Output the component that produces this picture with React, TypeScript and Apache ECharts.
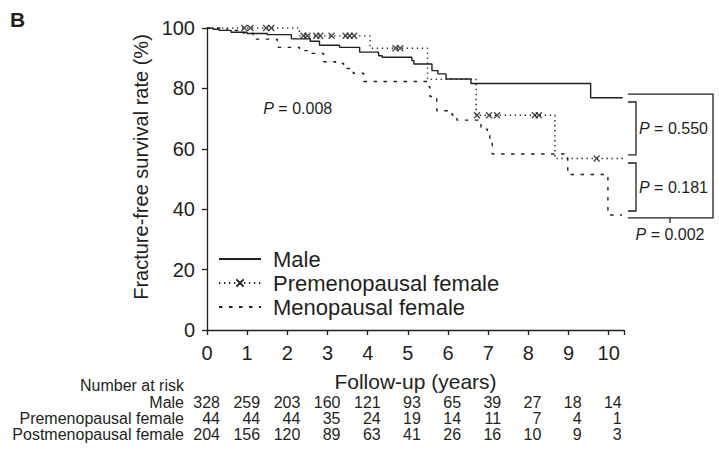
import React, { useEffect, useRef } from 'react';
import * as echarts from 'echarts';

// ---- Kaplan-Meier data (time in years, survival %) ----
const maleTimes = [0, 0.15, 0.3, 0.6, 1.0, 1.5, 2.1, 2.57, 2.8, 3.3, 3.8, 4.27, 4.36, 5.1, 5.15, 5.6, 5.75, 5.95, 6.57, 9.55, 10.35];
const maleSurv = [100, 99.6, 99.2, 98.6, 98.2, 97.8, 96.4, 95.6, 94.3, 93.6, 92.0, 90.8, 90.3, 89.2, 88.1, 85.9, 84.8, 83.1, 81.6, 76.9, 76.9];

const preTimes = [0, 2.3, 4.06, 5.49, 6.7, 8.66, 10.38];
const preSurv = [100, 97.4, 93.3, 83.0, 71.1, 56.8, 56.8];

const preCensorTimes = [0.93, 1.08, 1.47, 1.6, 2.4, 2.5, 2.72, 2.82, 3.1, 3.45, 3.55, 3.66, 4.69, 4.81, 6.72, 7.02, 7.22, 8.16, 8.26, 9.7];
const preCensorSurv = [100, 100, 100, 100, 97.4, 97.4, 97.4, 97.4, 97.4, 97.4, 97.4, 97.4, 93.3, 93.3, 71.1, 71.1, 71.1, 71.1, 71.1, 56.8];

const menoTimes = [0, 0.5, 0.9, 1.15, 1.75, 2.3, 2.5, 2.9, 3.2, 3.4, 3.64, 3.9, 5.5, 5.55, 5.72, 6.1, 6.22, 6.82, 6.98, 7.04, 7.1, 8.98, 9.98, 10.33];
const menoSurv = [100, 99.2, 98.3, 96.3, 93.6, 92.5, 91.6, 88.8, 88.3, 86.6, 85.0, 82.3, 80.6, 77.3, 72.6, 71.2, 69.5, 66.5, 65.2, 62.0, 58.3, 51.5, 38.1, 38.1];

// ---- Number at risk table ----
const riskTimes = [0, 1, 2, 3, 4, 5, 6, 7, 8, 9, 10];
const riskLabels = ['Male', 'Premenopausal female', 'Postmenopausal female'];
const riskMale = [328, 259, 203, 160, 121, 93, 65, 39, 27, 18, 14];
const riskPre = [44, 44, 44, 35, 24, 19, 14, 11, 7, 4, 1];
const riskPost = [204, 156, 120, 89, 63, 41, 26, 16, 10, 9, 3];

// ---- P values ----
const pOverall = '0.008';
const pMaleVsPre = '0.550';
const pPreVsPost = '0.181';
const pMaleVsPost = '0.002';

const seriesNames = ['Male', 'Premenopausal female', 'Menopausal female'];

const INK = '#231f20';
const FONT = "'Liberation Sans', Arial, Helvetica, sans-serif";
const X_SYMBOL = 'path://M0,0L10,10M10,0L0,10';

const zip = (a: number[], b: number[]) => a.map((v, i) => [v, b[i]]);

export default function App() {
  const ref = useRef<HTMLDivElement>(null);

  useEffect(() => {
    document.body.style.margin = '0';
    const chart = echarts.init(ref.current!, null, { renderer: 'svg' });
    const option: any = {
      animation: false,
      backgroundColor: '#ffffff',
      textStyle: { fontFamily: FONT, color: INK },
      grid: { left: 207, right: 95, top: 28, bottom: 122, containLabel: false },
      legend: {
        orient: 'vertical',
        left: 213,
        top: 243,
        itemWidth: 42,
        itemHeight: 9,
        itemGap: 2,
        textStyle: { fontSize: 22, color: INK, fontFamily: FONT, lineHeight: 22, padding: [0, 0, 0, 7] },
        data: [
          { name: seriesNames[0], itemStyle: { opacity: 0 } },
          { name: seriesNames[1] },
          { name: seriesNames[2], itemStyle: { opacity: 0 } },
        ],
      },
      xAxis: {
        type: 'value',
        min: 0,
        max: 10.38,
        interval: 1,
        name: 'Follow-up (years)',
        nameLocation: 'middle',
        nameGap: 41,
        nameTextStyle: { fontSize: 21, color: INK, fontFamily: FONT },
        axisLine: { show: true, lineStyle: { color: INK, width: 1.3 } },
        axisTick: { show: true, length: 5, lineStyle: { color: INK, width: 1.3 } },
        axisLabel: {
          fontSize: 20,
          color: INK,
          margin: 13,
          formatter: (v: number) => (Number.isInteger(v) ? String(v) : ''),
        },
        splitLine: { show: false },
      },
      yAxis: {
        type: 'value',
        min: 0,
        max: 100,
        interval: 20,
        name: 'Fracture-free survival rate (%)',
        nameLocation: 'middle',
        nameGap: 55,
        nameTextStyle: { fontSize: 20, color: INK, fontFamily: FONT, padding: [0, 0, 0, 24] },
        axisLine: { show: true, lineStyle: { color: INK, width: 1.3 } },
        axisTick: { show: true, length: 5, lineStyle: { color: INK, width: 1.3 } },
        axisLabel: { fontSize: 20, color: INK, margin: 12 },
        splitLine: { show: false },
      },
      series: [
        {
          name: seriesNames[0],
          type: 'line',
          step: 'end',
          symbol: 'none',
          data: zip(maleTimes, maleSurv),
          lineStyle: { color: INK, width: 1.4, type: 'solid' },
          itemStyle: { color: INK },
        },
        {
          name: seriesNames[1],
          type: 'line',
          step: 'end',
          symbol: X_SYMBOL,
          symbolSize: 7,
          showSymbol: false,
          data: zip(preTimes, preSurv),
          lineStyle: { color: INK, width: 1.4, type: [1.3, 3.7] },
          itemStyle: { color: INK, borderColor: INK, borderWidth: 1.4 },
        },
        {
          name: seriesNames[2],
          type: 'line',
          step: 'end',
          symbol: 'none',
          data: zip(menoTimes, menoSurv),
          lineStyle: { color: INK, width: 1.4, type: [3.5, 6.5] },
          itemStyle: { color: INK },
        },
        {
          name: 'Premenopausal censored',
          type: 'scatter',
          symbol: X_SYMBOL,
          symbolSize: 6,
          data: zip(preCensorTimes, preCensorSurv),
          itemStyle: { color: 'transparent', borderColor: INK, borderWidth: 1.4 },
          z: 5,
        },
      ],
    };
    chart.setOption(option);

    const px = (t: number, v: number) => chart.convertToPixel({ gridIndex: 0 }, [t, v]) as number[];
    const xEnd = px(10.38, 0)[0];
    const maleEnd = maleSurv[maleSurv.length - 1];
    const preEnd = preSurv[preSurv.length - 1];
    const menoEnd = menoSurv[menoSurv.length - 1];
    const yBoxTop = px(0, maleEnd + 1.2)[1];
    const yBoxBot = px(0, menoEnd - 1.0)[1];
    const y1t = px(0, maleEnd - 1.4)[1];
    const y1b = px(0, preEnd + 1.2)[1];
    const y2t = px(0, preEnd - 1.5)[1];
    const y2b = px(0, menoEnd + 1.3)[1];
    const L = xEnd + 4;
    const V = xEnd + 12;
    const R = xEnd + 89;
    const T = xEnd + 46;

    const lineStyle = { stroke: INK, lineWidth: 1.3, fill: 'none' };
    const pText = (val: string) => ({
      text: `{i|P} = ${val}`,
      fontSize: 16,
      fontFamily: FONT,
      fill: INK,
      rich: {
        i: { fontStyle: 'italic', fontSize: 16, fontFamily: FONT, fill: INK },
      },
    });

    const graphics: any[] = [
      { type: 'text', x: 10, y: 9, style: { text: 'B', fontSize: 21, fontWeight: 'bold', fontFamily: FONT, fill: INK } },
      { type: 'polyline', shape: { points: [[L, yBoxTop], [R, yBoxTop], [R, yBoxBot], [L, yBoxBot]] }, style: lineStyle },
      { type: 'polyline', shape: { points: [[L, y1t], [V, y1t], [V, y1b], [L, y1b]] }, style: lineStyle },
      { type: 'polyline', shape: { points: [[L, y2t], [V, y2t], [V, y2b], [L, y2b]] }, style: lineStyle },
      { type: 'line', shape: { x1: T, y1: yBoxBot, x2: T, y2: yBoxBot + 5 }, style: lineStyle },
      { type: 'text', x: V + 3, y: (y1t + y1b) / 2, style: { ...pText(pMaleVsPre), verticalAlign: 'middle', align: 'left' } },
      { type: 'text', x: V + 3, y: (y2t + y2b) / 2, style: { ...pText(pPreVsPost), verticalAlign: 'middle', align: 'left' } },
      { type: 'text', x: T, y: yBoxBot + 17, style: { ...pText(pMaleVsPost), verticalAlign: 'middle', align: 'center' } },
    ];
    const pPos = px(1.4, 73.2);
    graphics.push({ type: 'text', x: pPos[0], y: pPos[1], style: { ...pText(pOverall), verticalAlign: 'middle', align: 'left' } });

    // Number at risk table
    const tableFont = { fontSize: 16, fontFamily: FONT, fill: INK };
    const labelRight = 184;
    graphics.push({ type: 'text', x: labelRight, y: 385, style: { text: 'Number at risk', ...tableFont, align: 'right', verticalAlign: 'middle' } });
    const rows = [riskMale, riskPre, riskPost];
    const rowY = [402, 418, 434];
    rows.forEach((row, r) => {
      graphics.push({ type: 'text', x: labelRight, y: rowY[r], style: { text: riskLabels[r], ...tableFont, align: 'right', verticalAlign: 'middle' } });
      row.forEach((n, i) => {
        const x = px(riskTimes[i], 0)[0];
        graphics.push({ type: 'text', x: x + 13, y: rowY[r], style: { text: String(n), ...tableFont, align: 'right', verticalAlign: 'middle' } });
      });
    });

    chart.setOption({ graphic: graphics });
    return () => chart.dispose();
  }, []);

  return <div ref={ref} style={{ width: 719, height: 452 }} />;
}
